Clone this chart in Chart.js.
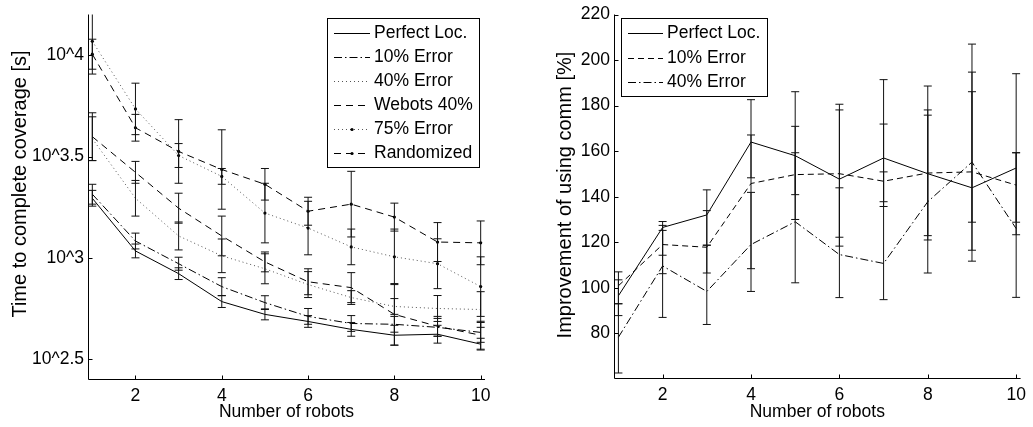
<!DOCTYPE html>
<html><head><meta charset="utf-8">
<script src="https://cdn.jsdelivr.net/npm/chart.js@4.4.0/dist/chart.umd.min.js"></script>
<style>
html,body{margin:0;padding:0;background:#fff;}
#wrap{position:relative;width:1033px;height:427px;overflow:hidden;background:#fff;}
.box{position:absolute;top:0;height:427px;}
#b1{left:0;width:517px;}
#b2{left:517px;width:516px;}
</style></head><body>
<div id="wrap">
  <div class="box" id="b1"><canvas id="c1"></canvas></div>
  <div class="box" id="b2"><canvas id="c2"></canvas></div>
</div>
<script>
// ---------- DATA ----------
const robots = [1, 2, 3, 4, 5, 6, 7, 8, 9, 10];
const xTicks = [2, 4, 6, 8, 10];

// Left panel: log10 of time to complete coverage [s], with error (log10 units)
const leftYTicks = [2.5, 3, 3.5, 4];
const perfectLog     = [3.294, 3.034, 2.922, 2.784, 2.721, 2.686, 2.647, 2.618, 2.623, 2.574];
const perfectLogErr  = [0.039, 0.034, 0.029, 0.029, 0.027, 0.029, 0.034, 0.049, 0.044, 0.029];
const err10Log       = [3.314, 3.083, 2.971, 2.858, 2.779, 2.711, 2.676, 2.672, 2.657, 2.632];
const err10LogErr    = [0.049, 0.039, 0.032, 0.044, 0.034, 0.039, 0.039, 0.039, 0.044, 0.049];
const err40Log       = [3.588, 3.294, 3.108, 3.010, 2.946, 2.868, 2.804, 2.760, 2.750, 2.745];
const err40LogErr    = [0.108, 0.088, 0.069, 0.083, 0.074, 0.064, 0.034, 0.039, 0.064, 0.088];
const webots40Log    = [3.598, 3.422, 3.245, 3.108, 2.980, 2.882, 2.853, 2.721, 2.662, 2.618];
const webots40LogErr = [0.118, 0.054, 0.074, 0.098, 0.049, 0.064, 0.074, 0.152, 0.049, 0.069];
const err75Log       = [4.069, 3.735, 3.505, 3.402, 3.221, 3.147, 3.054, 3.005, 2.971, 2.858];
const err75LogErr    = [0.162, 0.127, 0.059, 0.039, 0.147, 0.132, 0.088, 0.137, 0.123, 0.147];
const randomLog      = [4.005, 3.642, 3.525, 3.436, 3.363, 3.230, 3.265, 3.201, 3.078, 3.074];
const randomLogErr   = [0.074, 0.066, 0.157, 0.196, 0.078, 0.069, 0.162, 0.069, 0.096, 0.108];

// Right panel: improvement of using comm [%], with lower/upper error bar ends
const rightYTicks = [80, 100, 120, 140, 160, 180, 200, 220];
const commPerfect   = [96.5, 126.5, 132.0, 164.0, 158.0, 147.7, 157.0, 150.1, 143.9, 152.6];
const commPerfectLo = [87.8, 106.2, 118.7, 148.3, 130.0, 118.3, 137.8, 121.0, 116.5, 95.8];
const commPerfectHi = [103.5, 129.1, 143.0, 182.6, 186.1, 178.1, 191.4, 188.6, 194.7, 194.0];
const comm10        = [100.9, 119.0, 117.8, 145.8, 149.7, 150.1, 146.8, 150.4, 150.9, 145.1];
const comm10Lo      = [93.0, 114.3, 106.5, 108.4, 140.9, 122.2, 135.7, 122.9, 128.8, 128.8];
const comm10Hi      = [107.0, 125.2, 133.9, 167.1, 170.9, 180.6, 171.9, 178.1, 186.1, 159.3];
const comm40        = [78.3, 109.6, 98.4, 119.0, 129.0, 114.6, 110.7, 137.8, 155.2, 126.0];
const comm40Lo      = [62.6, 87.0, 83.9, 98.4, 102.2, 95.7, 94.8, 106.5, 111.7, 123.3];
const comm40Hi      = [93.0, 127.4, 118.7, 141.9, 159.3, 143.9, 150.9, 175.8, 207.0, 159.3];

// ---------- HELPERS ----------
const FONT = "'Liberation Sans', Arial, Helvetica, sans-serif";
const pts = arr => robots.map((r, i) => ({x: r, y: arr[i]}));
const minus = (a, e) => a.map((v, i) => v - e[i]);
const plus = (a, e) => a.map((v, i) => v + e[i]);

function lineDs(label, data, dash, color, lo, hi, marker) {
  return {
    label, data: pts(data), borderColor: color, backgroundColor: color,
    borderWidth: 1, borderDash: dash, tension: 0, fill: false,
    pointRadius: marker ? 1.6 : 0, pointBackgroundColor: '#000', pointBorderWidth: 0,
    pointHoverRadius: 0, errLo: lo, errHi: hi
  };
}

const errorBarPlugin = {
  id: 'errorBars',
  afterDatasetsDraw(chart) {
    const {ctx, chartArea: a, scales: {x, y}} = chart;
    ctx.save();
    ctx.beginPath(); ctx.rect(a.left, a.top, a.right - a.left, a.bottom - a.top); ctx.clip();
    ctx.strokeStyle = '#111'; ctx.lineWidth = 1; ctx.setLineDash([]);
    chart.data.datasets.forEach(ds => {
      if (!ds.errLo) return;
      ds.data.forEach((p, j) => {
        const px = x.getPixelForValue(p.x);
        const y1 = y.getPixelForValue(ds.errLo[j]);
        const y2 = y.getPixelForValue(ds.errHi[j]);
        ctx.beginPath();
        ctx.moveTo(px, y1); ctx.lineTo(px, y2);
        ctx.moveTo(px - 4, y1); ctx.lineTo(px + 4, y1);
        ctx.moveTo(px - 4, y2); ctx.lineTo(px + 4, y2);
        ctx.stroke();
      });
    });
    ctx.restore();
  }
};

const axesPlugin = {
  id: 'axesInside',
  afterDraw(chart) {
    const {ctx, chartArea: a, scales: {x, y}} = chart;
    ctx.save();
    ctx.strokeStyle = '#000'; ctx.lineWidth = 1; ctx.setLineDash([]);
    const L = Math.round(a.left) + 0.5, B = Math.round(a.bottom) + 0.5;
    ctx.beginPath();
    ctx.moveTo(L, a.top); ctx.lineTo(L, B); ctx.lineTo(a.right, B);
    x.ticks.forEach(t => { const px = Math.round(x.getPixelForValue(t.value)) + 0.5; ctx.moveTo(px, B); ctx.lineTo(px, B - 4); });
    y.ticks.forEach(t => { const py = Math.round(y.getPixelForValue(t.value)) + 0.5; ctx.moveTo(L, py); ctx.lineTo(L + 4, py); });
    ctx.stroke();
    ctx.restore();
  }
};

const boxLegendPlugin = {
  id: 'boxLegend',
  afterDraw(chart, args, o) {
    const ctx = chart.ctx;
    ctx.save();
    ctx.fillStyle = '#fff'; ctx.fillRect(o.x, o.y, o.w, o.h);
    ctx.strokeStyle = '#000'; ctx.lineWidth = 1; ctx.setLineDash([]);
    ctx.strokeRect(o.x + 0.5, o.y + 0.5, o.w, o.h);
    chart.data.datasets.forEach((ds, i) => {
      const cy = Math.round(o.row0 + i * o.rowH) + 0.5;
      ctx.beginPath(); ctx.setLineDash(ds.borderDash || []); ctx.strokeStyle = ds.borderColor;
      ctx.moveTo(o.s0, cy); ctx.lineTo(o.s1, cy); ctx.stroke();
      ctx.setLineDash([]);
      if (ds.pointRadius > 0) {
        ctx.fillStyle = '#000'; ctx.beginPath();
        ctx.arc((o.s0 + o.s1) / 2, cy, ds.pointRadius, 0, Math.PI * 2); ctx.fill();
      }
      ctx.fillStyle = '#000'; ctx.font = o.font; ctx.textBaseline = 'middle'; ctx.textAlign = 'left';
      ctx.fillText(ds.label, o.tx, cy);
    });
    ctx.restore();
  }
};

const yTitlePlugin = {
  id: 'yTitle',
  afterDraw(chart, args, o) {
    const ctx = chart.ctx;
    ctx.save();
    ctx.translate(o.cx, o.cy); ctx.rotate(-Math.PI / 2);
    ctx.fillStyle = '#000'; ctx.font = o.font; ctx.textAlign = 'center'; ctx.textBaseline = 'middle';
    ctx.fillText(o.text, 0, 0);
    ctx.restore();
  }
};

function makeOptions(c) {
  const tickFont = {family: FONT, size: 17.5};
  return {
    responsive: true, maintainAspectRatio: false, animation: false, devicePixelRatio: 1,
    layout: {padding: {left: 0, top: c.padTop, right: c.padRight, bottom: 0}},
    plugins: {
      legend: {display: false}, tooltip: {enabled: false},
      boxLegend: c.legend, yTitle: c.yTitle
    },
    scales: {
      x: {
        type: 'linear', min: 0.9, max: 10.1,
        grid: {display: false, drawTicks: false}, border: {display: false},
        afterBuildTicks: s => { s.ticks = xTicks.map(v => ({value: v})); },
        afterFit: s => { s.height = c.xH; },
        ticks: {padding: 7, color: '#000', font: tickFont, maxRotation: 0, autoSkip: false, callback: v => String(v)},
        title: {display: true, text: 'Number of robots', color: '#000', font: {family: FONT, size: 17.5}, padding: {top: 0, bottom: 4}}
      },
      y: {
        type: 'linear', min: c.yMin, max: c.yMax,
        grid: {display: false, drawTicks: false}, border: {display: false},
        afterBuildTicks: s => { s.ticks = c.yTicks.map(v => ({value: v})); },
        afterFit: s => { s.width = c.yW; },
        ticks: {padding: 4, color: '#000', font: tickFont, autoSkip: false, callback: c.yLabel}
      }
    }
  };
}

Chart.register(errorBarPlugin, axesPlugin, boxLegendPlugin, yTitlePlugin);

// ---------- LEFT CHART ----------
new Chart(document.getElementById('c1'), {
  type: 'line',
  data: {datasets: [
    lineDs('Perfect Loc.', perfectLog, [], '#000', minus(perfectLog, perfectLogErr), plus(perfectLog, perfectLogErr), false),
    lineDs('10% Error', err10Log, [8, 3, 1.5, 3], '#000', minus(err10Log, err10LogErr), plus(err10Log, err10LogErr), false),
    lineDs('40% Error', err40Log, [1, 3], '#555', minus(err40Log, err40LogErr), plus(err40Log, err40LogErr), false),
    lineDs('Webots 40%', webots40Log, [7, 5], '#000', minus(webots40Log, webots40LogErr), plus(webots40Log, webots40LogErr), false),
    lineDs('75% Error', err75Log, [1, 3], '#555', minus(err75Log, err75LogErr), plus(err75Log, err75LogErr), true),
    lineDs('Randomized', randomLog, [7, 5], '#000', minus(randomLog, randomLogErr), plus(randomLog, randomLogErr), true)
  ]},
  options: makeOptions({
    padTop: 12, padRight: 32, xH: 48, yW: 88,
    yMin: 2.402, yMax: 4.201, yTicks: leftYTicks, yLabel: v => '10^' + v,
    legend: {x: 327, y: 18, w: 152, h: 149, row0: 33, rowH: 24, s0: 334, s1: 370, tx: 374, font: "17.5px " + FONT},
    yTitle: {text: 'Time to complete coverage [s]', cx: 20, cy: 184, font: "20px " + FONT}
  })
});

// ---------- RIGHT CHART ----------
new Chart(document.getElementById('c2'), {
  type: 'line',
  data: {datasets: [
    lineDs('Perfect Loc.', commPerfect, [], '#000', commPerfectLo, commPerfectHi, false),
    lineDs('10% Error', comm10, [6, 4], '#000', comm10Lo, comm10Hi, false),
    lineDs('40% Error', comm40, [8, 3, 1.5, 3], '#000', comm40Lo, comm40Hi, false)
  ]},
  options: makeOptions({
    padTop: 12, padRight: 9, xH: 49, yW: 97,
    yMin: 60.4, yMax: 220, yTicks: rightYTicks, yLabel: v => String(v),
    legend: {x: 104, y: 18, w: 146, h: 78, row0: 33, rowH: 24.5, s0: 111, s1: 146, tx: 150, font: "17.5px " + FONT},
    yTitle: {text: 'Improvement of using comm [%]', cx: 48, cy: 195, font: "20px " + FONT}
  })
});
</script>
</body></html>
